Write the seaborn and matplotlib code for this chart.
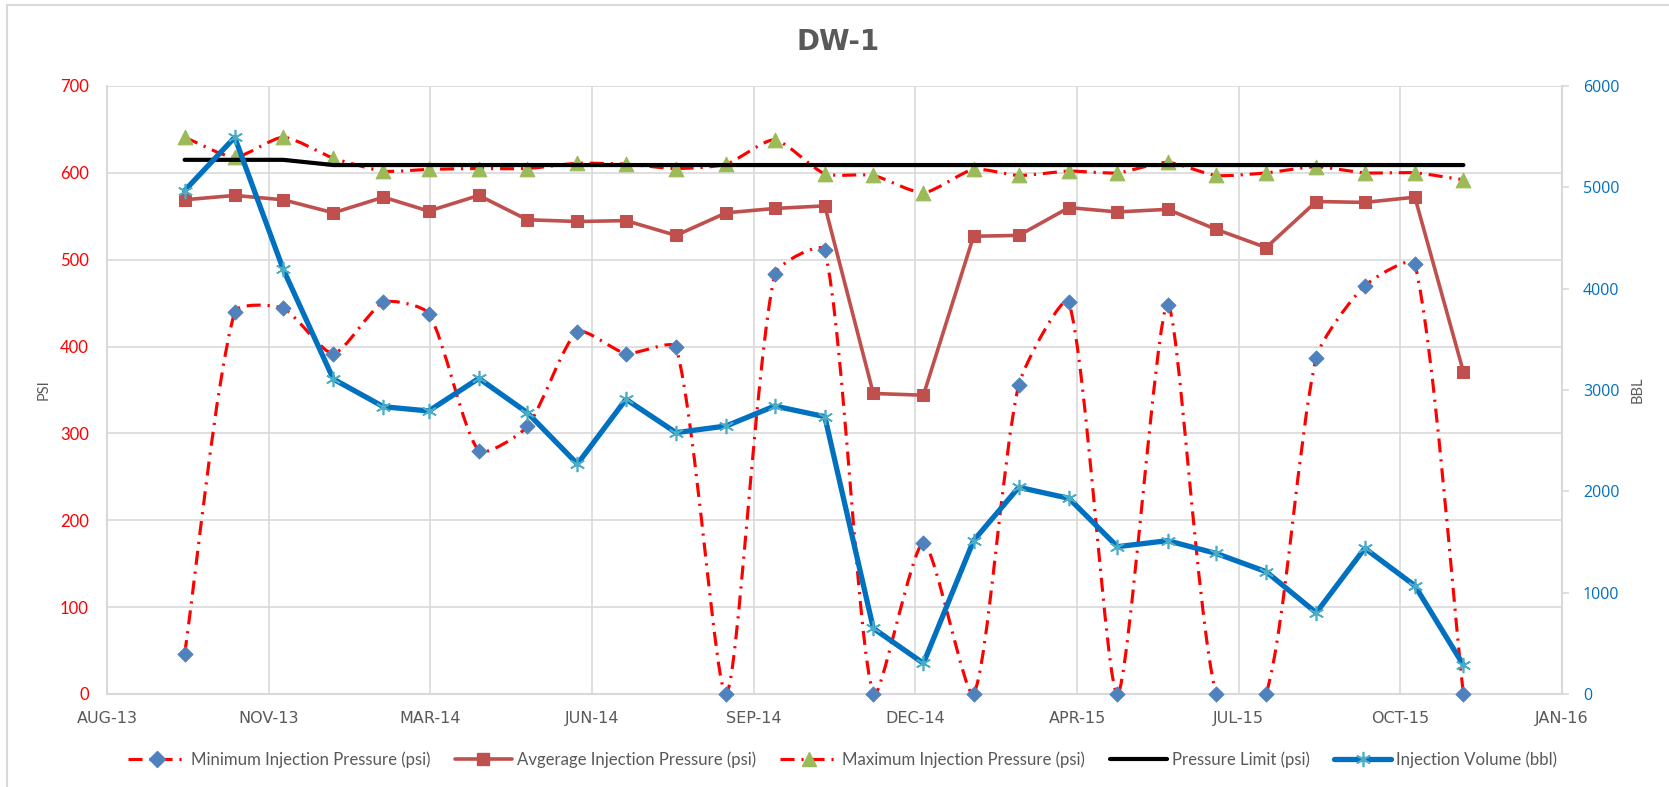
import numpy as np
import pandas as pd
import matplotlib
matplotlib.use("Agg")
import matplotlib.pyplot as plt
import matplotlib.dates as mdates
import matplotlib.ticker as mticker
from matplotlib.path import Path
from matplotlib.patches import PathPatch
from matplotlib.lines import Line2D
import seaborn as sns

# ---------------- data ----------------
months = ["2013-10", "2013-11", "2013-12", "2014-01", "2014-02", "2014-03", "2014-04",
          "2014-05", "2014-06", "2014-07", "2014-08", "2014-09", "2014-10", "2014-11",
          "2014-12", "2015-01", "2015-02", "2015-03", "2015-04", "2015-05", "2015-06",
          "2015-07", "2015-08", "2015-09", "2015-10", "2015-11", "2015-12"]
min_pressure = [46, 440, 444, 392, 451, 438, 280, 308, 417, 392, 399, 0, 483, 511,
                0, 174, 0, 356, 451, 0, 448, 0, 0, 387, 470, 495, 0]
avg_pressure = [569, 574, 569, 554, 572, 556, 574, 546, 544, 545, 528, 554, 559, 562,
                346, 344, 527, 528, 560, 555, 558, 535, 514, 567, 566, 572, 371]
max_pressure = [641, 618, 641, 617, 602, 604, 605, 605, 611, 610, 605, 610, 638, 599,
                597, 577, 604, 597, 602, 600, 612, 597, 600, 607, 600, 600, 592]
pressure_limit = [615, 615, 615, 609, 609, 609, 609, 609, 609, 609, 609, 609, 609, 609,
                  609, 609, 609, 609, 609, 609, 609, 609, 609, 609, 609, 609, 609]
injection_volume = [4967, 5493, 4191, 3108, 2835, 2793, 3115, 2776, 2270, 2908, 2579,
                    2645, 2842, 2737, 648, 303, 1513, 2040, 1931, 1454, 1513, 1388,
                    1207, 802, 1438, 1069, 286]
series_names = ["Minimum Injection Pressure (psi)", "Avgerage Injection Pressure (psi)",
                "Maximum Injection Pressure (psi)", "Pressure Limit (psi)",
                "Injection Volume (bbl)"]
title = "DW-1"
left_label = "PSI"
right_label = "BBL"

# ---------------- style ----------------
sns.set_theme(style="white")
plt.rcParams["font.family"] = ["Lato", "DejaVu Sans"]

RED = "#FF0000"
BLUE_M = "#4F81BD"
AVG_C = "#C0504D"
GREEN = "#9BBB59"
VOL_C = "#0070C0"
VOL_M = "#4BACC6"
GRID = "#D9D9D9"
TXT = "#595959"
DASH = (0, (4.5, 2.2, 0.7, 2.2))

W, H = 1669, 787
fig = plt.figure(figsize=(W / 100, H / 100), dpi=100)
L, R, T, B = 107, 1562, 86, 694
ax = fig.add_axes([L / W, 1 - B / H, (R - L) / W, (B - T) / H])
ax2 = ax.twinx()

dates = pd.to_datetime(months)
xnum = mdates.date2num(dates.to_pydatetime())

# ---------------- axes limits first (smoothing is done in screen space) -------
start = pd.Timestamp("2013-08-14")
tick_dates = [start + pd.Timedelta(days=100 * k) for k in range(10)]
ax.set_xlim(mdates.date2num(tick_dates[0]), mdates.date2num(tick_dates[-1]))
ax.set_ylim(0, 700)
ax2.set_ylim(0, 6000)

TENSION = 0.22


def smooth_path(axis, xs, ys):
    """Excel-like smoothed line: Bezier segments with tangents scaled by
    neighbouring segment lengths (computed in screen space)."""
    P = axis.transData.transform(np.column_stack([xs, ys]).astype(float))
    n = len(P)

    def tangent(i):
        a = P[i - 1] if i > 0 else P[i]
        b = P[i + 1] if i < n - 1 else P[i]
        lin = np.linalg.norm(P[i] - a)
        lout = np.linalg.norm(b - P[i])
        return b - a, lin, lout

    verts = [P[0]]
    codes = [Path.MOVETO]
    for i in range(n - 1):
        t0, lin0, lout0 = tangent(i)
        t1, lin1, lout1 = tangent(i + 1)
        s0 = lin0 + lout0
        s1 = lin1 + lout1
        c1 = P[i] + (t0 * TENSION * lout0 / s0 if s0 > 0 else 0)
        c2 = P[i + 1] - (t1 * TENSION * lin1 / s1 if s1 > 0 else 0)
        verts += [c1, c2, P[i + 1]]
        codes += [Path.CURVE4] * 3
    verts = axis.transData.inverted().transform(np.array(verts))
    return Path(verts, codes)


# Minimum pressure (smoothed dash-dot line + diamonds)
ax.add_patch(PathPatch(smooth_path(ax, xnum, min_pressure), fill=False,
                       edgecolor=RED, lw=2.25, linestyle=DASH, zorder=2))
sns.scatterplot(x=xnum, y=min_pressure, ax=ax, marker="D", s=60, color=BLUE_M,
                edgecolor=BLUE_M, zorder=3, legend=False, clip_on=False)

# Average pressure
sns.lineplot(x=xnum, y=avg_pressure, ax=ax, color=AVG_C, lw=2.6, marker="s",
             markersize=9, markeredgecolor=AVG_C, zorder=4, legend=False)

# Maximum pressure (smoothed dash-dot line + triangles)
ax.add_patch(PathPatch(smooth_path(ax, xnum, max_pressure), fill=False,
                       edgecolor=RED, lw=2.25, linestyle=DASH, zorder=5))
sns.scatterplot(x=xnum, y=max_pressure, ax=ax, marker="^", s=110, color=GREEN,
                edgecolor=GREEN, zorder=6, legend=False)

# Pressure limit
sns.lineplot(x=xnum, y=pressure_limit, ax=ax, color="black", lw=3, zorder=7,
             legend=False)

# Injection volume on secondary axis
sns.lineplot(x=xnum, y=injection_volume, ax=ax2, color=VOL_C, lw=3.8,
             marker=(6, 2, 0), markersize=11, markeredgecolor=VOL_M,
             markeredgewidth=1.2, zorder=8, legend=False)

# ---------------- axes formatting ----------------
ax.set_xlim(mdates.date2num(tick_dates[0]), mdates.date2num(tick_dates[-1]))
ax.set_ylim(0, 700)
ax2.set_ylim(0, 6000)
ax.xaxis.set_major_locator(mticker.FixedLocator(mdates.date2num(tick_dates)))
ax.xaxis.set_major_formatter(mticker.FuncFormatter(
    lambda v, p: mdates.num2date(v).strftime("%b-%y").upper()))
ax.set_yticks(np.arange(0, 701, 100))
ax2.set_yticks(np.arange(0, 6001, 1000))

ax.set_axisbelow(True)
ax.grid(True, color=GRID, lw=1.2)
ax2.grid(False)

for s in ["top", "right"]:
    ax.spines[s].set_visible(False)
for s in ["left", "bottom"]:
    ax.spines[s].set_color(GRID)
    ax.spines[s].set_linewidth(1.5)
for s in ["top", "left", "bottom"]:
    ax2.spines[s].set_visible(False)
ax2.spines["right"].set_color(GRID)
ax2.spines["right"].set_linewidth(1.5)

ax.tick_params(axis="y", length=0, pad=13, labelcolor=RED, labelsize=12)
ax.tick_params(axis="x", length=0, pad=12, labelcolor=TXT, labelsize=11.5)
for lab in ax.get_xticklabels():
    lab.set_family(["DejaVu Sans"])
ax2.tick_params(axis="y", length=5, width=1.2, color=GRID, pad=10,
                labelcolor=VOL_C, labelsize=11.5)
for lab in ax2.get_yticklabels():
    lab.set_family(["Open Sans", "DejaVu Sans"])

ax.set_xlabel("")
ax.set_ylabel(left_label, color=TXT, fontsize=10.5)
ax.yaxis.set_label_coords((51 - L) / (R - L), 0.5)
ax2.set_ylabel(right_label, color=TXT, fontsize=10.5, rotation=90)
ax2.yaxis.set_label_coords((1631 - L) / (R - L), 0.5)

# ---------------- title, border, legend ----------------
fig.text(838 / W, 1 - 42 / H, title, ha="center", va="center", fontsize=20,
         fontweight="bold", color=TXT, family=["DejaVu Sans"])

fig.add_artist(Line2D([7 / W, 1], [1 - 5 / H, 1 - 5 / H], color=GRID, lw=1.5,
                      transform=fig.transFigure))
fig.add_artist(Line2D([7 / W, 7 / W], [1 - 5 / H, 0], color=GRID, lw=1.5,
                      transform=fig.transFigure))

handles = [
    Line2D([], [], color=RED, lw=2.25, linestyle=DASH, marker="D", markersize=8,
           markerfacecolor=BLUE_M, markeredgecolor=BLUE_M),
    Line2D([], [], color=AVG_C, lw=2.6, marker="s", markersize=9,
           markerfacecolor=AVG_C, markeredgecolor=AVG_C),
    Line2D([], [], color=RED, lw=2.25, linestyle=DASH, marker="^", markersize=10,
           markerfacecolor=GREEN, markeredgecolor=GREEN),
    Line2D([], [], color="black", lw=3),
    Line2D([], [], color=VOL_C, lw=3.8, marker=(6, 2, 0), markersize=11,
           markeredgecolor=VOL_M, markeredgewidth=1.2),
]
fig.legend(handles, series_names, loc="center", bbox_to_anchor=(0.505, 1 - 760 / H),
           ncol=5, frameon=False, fontsize=12.1, handlelength=3.4, handletextpad=0.3,
           columnspacing=1.45, labelcolor=TXT)

fig.savefig("out.png", dpi=100)
